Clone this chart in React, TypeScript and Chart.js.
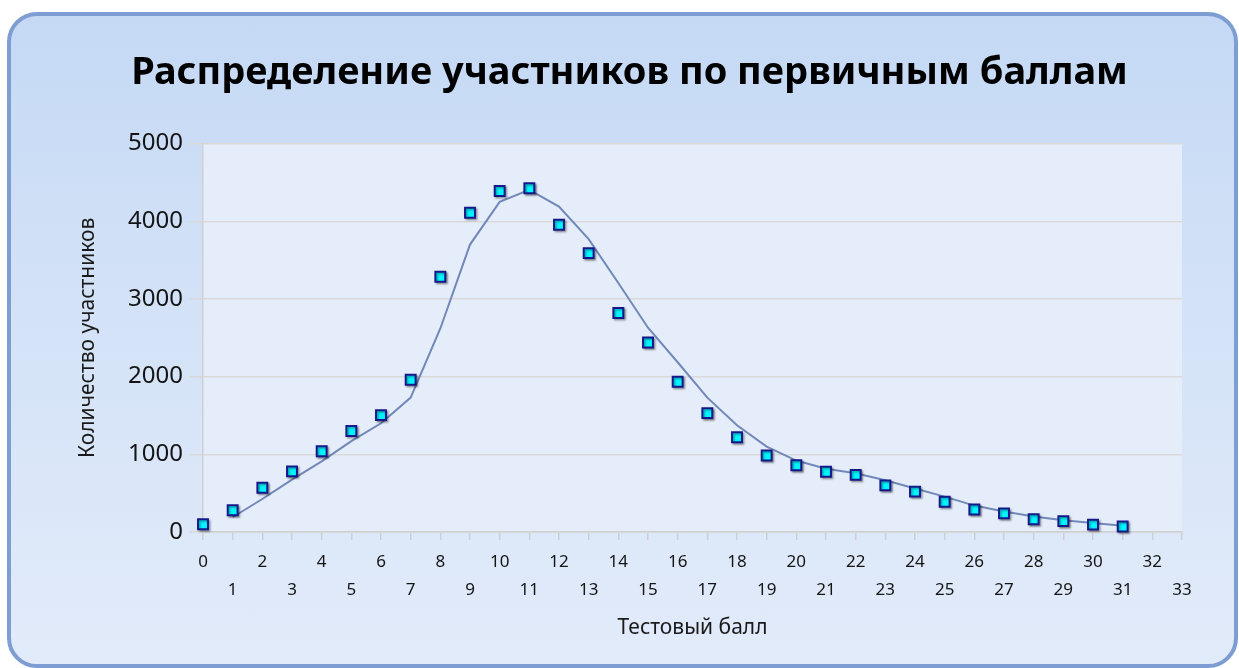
import React, { useEffect, useRef } from "react";
import { Chart, registerables } from "chart.js";

Chart.register(...registerables);

// Test score (primary score) values
const scores = [
  0, 1, 2, 3, 4, 5, 6, 7, 8, 9, 10, 11, 12, 13, 14, 15,
  16, 17, 18, 19, 20, 21, 22, 23, 24, 25, 26, 27, 28, 29, 30, 31,
];
// Number of participants per score
const counts = [
  100, 280, 570, 780, 1040, 1300, 1505, 1960, 3285, 4110, 4390, 4425, 3955, 3590, 2820, 2440,
  1935, 1530, 1220, 985, 860, 775, 735, 600, 520, 390, 290, 240, 165, 140, 95, 70,
];
// Trend line
const trendScores = [
  1, 2, 3, 4, 5, 6, 7, 8, 9, 10, 11, 12, 13, 14, 15, 16,
  17, 18, 19, 20, 21, 22, 23, 24, 25, 26, 27, 28, 29, 30, 31,
];
const trendValues = [
  190, 425, 675, 910, 1170, 1400, 1730, 2620, 3700, 4250, 4405, 4190, 3770, 3205, 2630, 2185,
  1730, 1375, 1100, 920, 815, 755, 665, 560, 455, 340, 265, 200, 150, 115, 80,
];
const xTickLabels = [
  "0", "1", "2", "3", "4", "5", "6", "7", "8", "9", "10", "11", "12", "13", "14", "15", "16",
  "17", "18", "19", "20", "21", "22", "23", "24", "25", "26", "27", "28", "29", "30", "31", "32", "33",
];
const yTickLabels = ["0", "1000", "2000", "3000", "4000", "5000"];

const titleText = "Распределение участников по первичным баллам";
const xTitle = "Тестовый балл";
const yTitle = "Количество участников";

const FONT = "'Noto Sans', 'DejaVu Sans', sans-serif";

const plotBgPlugin = {
  id: "plotBg",
  beforeDraw(chart: any) {
    const { ctx, chartArea } = chart;
    if (!chartArea) return;
    ctx.save();
    ctx.fillStyle = "#e5edfa";
    ctx.fillRect(chartArea.left, chartArea.top, chartArea.right - chartArea.left, chartArea.bottom - chartArea.top);
    ctx.restore();
  },
};

const shadowPlugin = {
  id: "markerShadow",
  beforeDatasetDraw(chart: any, args: any) {
    if (args.index !== 0) return;
    const ctx = chart.ctx;
    ctx.save();
    ctx.shadowColor = "rgba(0,0,0,0.35)";
    ctx.shadowBlur = 2;
    ctx.shadowOffsetX = 1.5;
    ctx.shadowOffsetY = 1.5;
  },
  afterDatasetDraw(chart: any, args: any) {
    if (args.index !== 0) return;
    chart.ctx.restore();
  },
};

export default function App() {
  const canvasRef = useRef<HTMLCanvasElement | null>(null);

  useEffect(() => {
    if (!canvasRef.current) return;
    const chart = new Chart(canvasRef.current, {
      type: "scatter",
      data: {
        datasets: [
          {
            label: "Участники",
            data: scores.map((s, i) => ({ x: s, y: counts[i] })),
            pointStyle: "rect",
            pointRadius: 7,
            pointHoverRadius: 7,
            pointBackgroundColor: "#00f6ff",
            pointBorderColor: "#14188a",
            pointBorderWidth: 2,
            showLine: false,
            clip: false,
          } as any,
          {
            label: "Тренд",
            type: "line",
            data: trendScores.map((s, i) => ({ x: s, y: trendValues[i] })),
            borderColor: "#7188b8",
            borderWidth: 2,
            pointRadius: 0,
            tension: 0,
            fill: false,
          } as any,
        ],
      },
      options: {
        animation: false,
        responsive: true,
        maintainAspectRatio: false,
        layout: { padding: { left: 20, right: 0, top: 0, bottom: 0 } },
        plugins: {
          legend: { display: false },
          tooltip: { enabled: false },
          title: {
            display: true,
            text: titleText,
            color: "#000000",
            font: { family: FONT, size: 38, weight: "bold" },
            padding: { top: 50, bottom: 48 },
          },
        },
        scales: {
          x: {
            type: "linear",
            min: 0,
            max: 33,
            afterFit(scale: any) {
              scale.height = 136;
            },
            border: { display: true, color: "#cfcfcf", width: 1.5 },
            grid: {
              display: true,
              drawOnChartArea: false,
              drawTicks: true,
              tickLength: 8,
              color: "#cfcfcf",
              lineWidth: 1.5,
            },
            ticks: {
              stepSize: 1,
              maxTicksLimit: 40,
              autoSkip: false,
              maxRotation: 0,
              minRotation: 0,
              padding: 8,
              color: "#141414",
              font: { family: FONT, size: 17, lineHeight: 1.65 },
              callback(value: any) {
                const i = Number(value);
                const lbl = xTickLabels[i];
                return i % 2 === 0 ? lbl : ["", lbl];
              },
            },
            title: {
              display: true,
              text: xTitle,
              color: "#1a1a1a",
              font: { family: FONT, size: 21 },
              padding: { top: 0, bottom: 27 },
            },
          },
          y: {
            min: 0,
            max: 5000,
            afterFit(scale: any) {
              scale.width = 183;
            },
            border: { display: true, color: "#cfcfcf", width: 1.5 },
            grid: {
              display: true,
              drawTicks: true,
              tickLength: 14,
              color: "#d9d9d9",
              lineWidth: 1.5,
            },
            ticks: {
              stepSize: 1000,
              padding: 6,
              color: "#141414",
              font: { family: FONT, size: 24 },
              callback(value: any) {
                const i = Math.round(Number(value) / 1000);
                return yTickLabels[i];
              },
            },
            title: {
              display: true,
              text: yTitle,
              color: "#1a1a1a",
              font: { family: FONT, size: 21 },
              padding: { top: 55, bottom: 0 },
            },
          },
          yRightSpace: {
            type: "linear",
            position: "right",
            display: true,
            afterFit(scale: any) {
              scale.width = 57;
            },
            grid: { display: false, drawTicks: false },
            border: { display: false },
            ticks: { display: false },
          },
        },
      },
      plugins: [plotBgPlugin, shadowPlugin],
    });
    return () => chart.destroy();
  }, []);

  return (
    <>
      <div
        style={{
          position: "absolute",
          left: 7,
          top: 12,
          width: 1231,
          height: 656,
          boxSizing: "border-box",
          border: "4px solid #7d9dd3",
          borderRadius: 30,
          background: "linear-gradient(180deg, #c5d9f5 0%, #d3e2f7 45%, #e2ebfa 100%)",
        }}
      />
      <div style={{ position: "absolute", left: 0, top: 0, width: 1239, height: 668 }}>
        <canvas ref={canvasRef} />
      </div>
    </>
  );
}
